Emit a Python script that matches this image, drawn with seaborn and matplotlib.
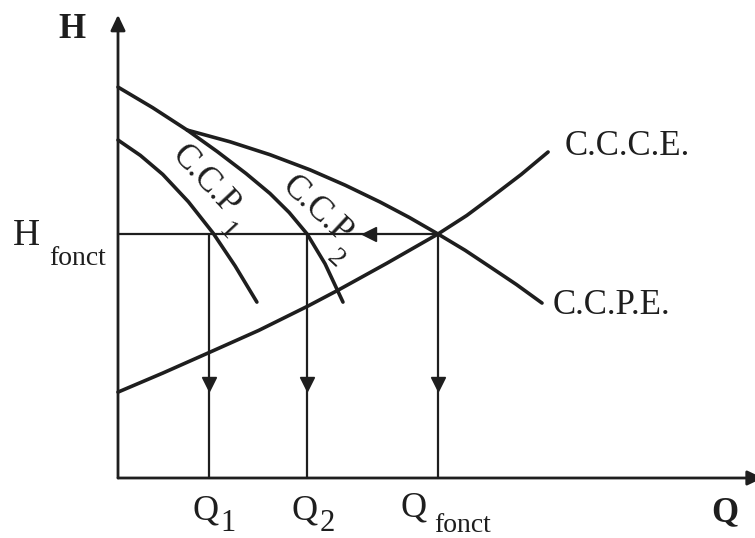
import matplotlib
matplotlib.use("Agg")
import matplotlib.pyplot as plt
import seaborn as sns
import pandas as pd

# Courbes caractéristiques (Q en abscisse, H en ordonnée, unités arbitraires)
ccce_q = [0.0, 1.4, 2.81, 4.4, 5.94, 6.88, 8.4, 10.0, 10.9, 11.72, 12.6, 13.44]
ccce_h = [3.52, 4.3, 5.12, 6.05, 7.05, 7.70, 8.8, 10.0, 10.76, 11.56, 12.44, 13.36]

ccpe_q = [2.16, 3.5, 4.75, 6.0, 7.1, 8.19, 9.1, 10.0, 10.85, 11.63, 12.45, 13.25]
ccpe_h = [14.26, 13.78, 13.25, 12.63, 12.0, 11.31, 10.68, 10.0, 9.33, 8.65, 7.93, 7.17]

ccp2_q = [0.0, 1.08, 2.16, 3.1, 4.0, 4.75, 5.35, 5.91, 6.47, 7.03]
ccp2_h = [16.02, 15.18, 14.26, 13.38, 12.48, 11.66, 10.88, 10.0, 8.78, 7.21]

ccp1_q = [0.0, 0.7, 1.4, 2.2, 2.97, 3.66, 4.34]
ccp1_h = [13.85, 13.22, 12.44, 11.32, 10.04, 8.69, 7.21]

# Point de fonctionnement et débits partiels
h_fonct = 10.0
q_fonct = 10.0
q_1 = 2.84
q_2 = 5.91

INK = "#1e1e1e"

sns.set_style("white")
plt.rcParams["font.family"] = ["Liberation Serif", "DejaVu Serif"]

fig = plt.figure(figsize=(7.55, 5.38), dpi=100)
ax = fig.add_axes([0, 0, 1, 1])
ax.set_xlim(-3.6875, 19.906)
ax.set_ylim(-2.459, 19.59)
ax.axis("off")

# Axes Q et H avec flèches
arrow_kw = dict(arrowstyle="-|>,head_length=0.42,head_width=0.2",
                mutation_scale=22, lw=2.0, color=INK,
                shrinkA=0, shrinkB=0)
ax.annotate("", xy=(0, 18.98), xytext=(0, 0), arrowprops=arrow_kw,
            annotation_clip=False)
ax.annotate("", xy=(20.15, 0), xytext=(0, 0), arrowprops=arrow_kw,
            annotation_clip=False)

# Courbes
curves = pd.concat([
    pd.DataFrame({"Q": ccce_q, "H": ccce_h, "courbe": "C.C.C.E."}),
    pd.DataFrame({"Q": ccpe_q, "H": ccpe_h, "courbe": "C.C.P.E."}),
    pd.DataFrame({"Q": ccp2_q, "H": ccp2_h, "courbe": "C.C.P2"}),
    pd.DataFrame({"Q": ccp1_q, "H": ccp1_h, "courbe": "C.C.P1"}),
], ignore_index=True)
for name, grp in curves.groupby("courbe", sort=False):
    sns.lineplot(data=grp, x="Q", y="H", ax=ax, color=INK, lw=2.6,
                 estimator=None, sort=False, legend=False)
for ln in ax.get_lines():
    ln.set_solid_joinstyle("round")

# Lignes de rappel du point de fonctionnement
ax.plot([0, q_fonct], [h_fonct, h_fonct], color=INK, lw=1.6)
for q in (q_1, q_2, q_fonct):
    ax.plot([q, q], [0, h_fonct], color=INK, lw=1.6)
    ax.plot(q, 3.87, marker="v", markersize=9.5, color=INK, lw=0)
ax.plot(7.83, h_fonct, marker="<", markersize=9.5, color=INK, lw=0)

# Étiquettes des axes
ax.text(-1.44, 18.03, "H", fontsize=25, fontweight="bold", color=INK,
        ha="center", va="baseline")
ax.text(18.97, -1.76, "Q", fontsize=25, fontweight="bold", color=INK,
        ha="center", va="baseline")
ax.text(-2.86, 9.55, "H", fontsize=27, color=INK, ha="center", va="baseline")
ax.text(-1.27, 8.73, "fonct", fontsize=20, color=INK, ha="center", va="baseline")

ax.text(q_1 - 0.11, -1.72, "Q", fontsize=26, color=INK, ha="center", va="baseline")
ax.text(q_1 + 0.61, -2.17, "1", fontsize=22, color=INK, ha="center", va="baseline")
ax.text(q_2 - 0.08, -1.72, "Q", fontsize=26, color=INK, ha="center", va="baseline")
ax.text(q_2 + 0.64, -2.17, "2", fontsize=22, color=INK, ha="center", va="baseline")
ax.text(q_fonct - 0.75, -1.56, "Q", fontsize=26, color=INK, ha="center", va="baseline")
ax.text(q_fonct + 0.77, -2.22, "fonct", fontsize=20, color=INK, ha="center", va="baseline")

# Noms des courbes
ax.text(13.97, 13.24, "C.C.C.E.", fontsize=25, color=INK, ha="left", va="baseline")
ax.text(13.59, 6.72, "C.C.P.E.", fontsize=25, color=INK, ha="left", va="baseline")
ax.text(2.72, 12.21, "C.C.P", fontsize=25, color=INK, rotation=-47,
        ha="center", va="center", rotation_mode="anchor")
ax.text(3.41, 10.08, "1", fontsize=20, color=INK, rotation=-47,
        ha="center", va="center", rotation_mode="anchor")
ax.text(6.22, 10.98, "C.C.P", fontsize=25, color=INK, rotation=-43,
        ha="center", va="center", rotation_mode="anchor")
ax.text(6.78, 8.98, "2", fontsize=20, color=INK, rotation=-43,
        ha="center", va="center", rotation_mode="anchor")

fig.savefig("out.png", dpi=100)
